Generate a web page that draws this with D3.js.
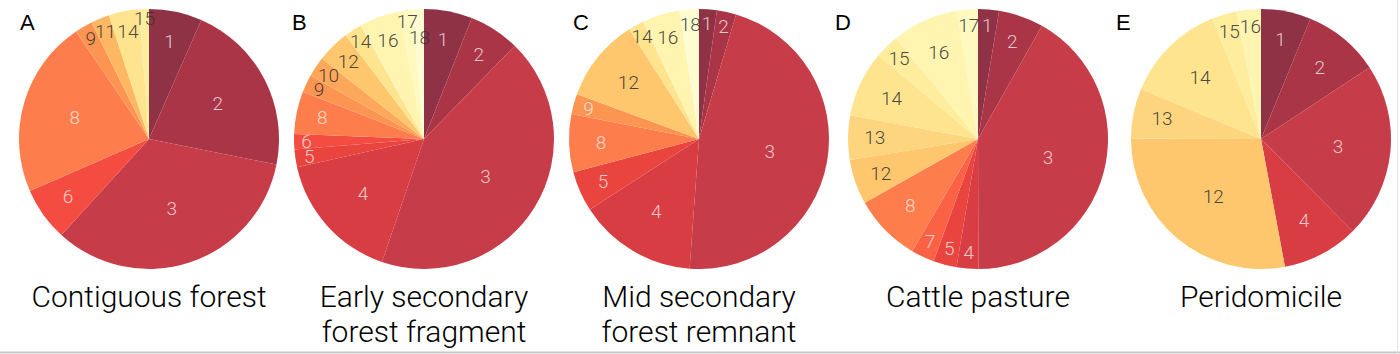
<!DOCTYPE html>
<html>
<head>
<meta charset="utf-8">
<script src="https://cdn.jsdelivr.net/npm/d3@7"></script>
<style>
  body { margin: 0; background: #fff; }
  svg { display: block; }
</style>
</head>
<body>
<svg id="chart"></svg>
<script>
/* ── Data (share of each category, %) ── */
const panelLetters = ['A', 'B', 'C', 'D', 'E'];
const panelTitles = [
  ['Contiguous forest'],
  ['Early secondary', 'forest fragment'],
  ['Mid secondary', 'forest remnant'],
  ['Cattle pasture'],
  ['Peridomicile']
];

const contiguousCats = [1, 2, 3, 6, 8, 9, 11, 14, 15];
const contiguousVals = [6.6, 21.6, 33.7, 6.7, 22.1, 2.2, 2.3, 3.8, 1.2];

const earlyCats = [1, 2, 3, 4, 5, 6, 8, 9, 10, 12, 14, 16, 17, 18];
const earlyVals = [6.0, 6.3, 43.0, 16.3, 2.2, 1.9, 5.3, 2.2, 2.5, 4.1, 2.2, 5.0, 1.7, 1.4];

const midCats = [1, 2, 3, 4, 5, 8, 9, 12, 14, 16, 18];
const midVals = [2.2, 2.4, 46.5, 14.7, 5.0, 7.2, 2.5, 10.4, 1.9, 4.7, 2.4];

const pastureCats = [1, 2, 3, 4, 5, 7, 8, 12, 13, 14, 15, 16, 17];
const pastureVals = [2.6, 5.6, 41.8, 2.7, 2.9, 2.9, 8.4, 5.6, 5.5, 8.2, 3.0, 8.3, 2.6];

const periCats = [1, 2, 3, 4, 12, 13, 14, 15, 16];
const periVals = [6.2, 9.5, 21.8, 9.5, 28.0, 6.2, 12.6, 3.1, 3.0];

const categories = d3.range(1, 19);
const categoryColors = [
  '#8f3246', '#a93546', '#c63c48', '#d83d44', '#e9443e', '#f44c41',
  '#fa6145', '#fd7d4d', '#fd9552', '#fda75a', '#feb762', '#fec76d',
  '#fed57f', '#fee48e', '#ffed9e', '#fff4b0', '#fff8bf', '#fffcd2'
];

const panels = [
  { cats: contiguousCats, vals: contiguousVals, darkFrom: 9 },
  { cats: earlyCats, vals: earlyVals, darkFrom: 9 },
  { cats: midCats, vals: midVals, darkFrom: 10 },
  { cats: pastureCats, vals: pastureVals, darkFrom: 9 },
  { cats: periCats, vals: periVals, darkFrom: 9 }
];

/* ── Layout ── */
const W = 1400, H = 354;
const R = 130;
const cy = 139;
const centers = [149, 424, 699, 978, 1261];
const letterDx = [-129, -132, -126, -143, -145];
const FONT = 'Roboto, "Helvetica Neue", Arial, sans-serif';
const LABEL_FS = 19;

const svg = d3.select('#chart').attr('width', W).attr('height', H);

const color = d3.scaleOrdinal().domain(categories).range(categoryColors);
const pie = d3.pie().sort(null).value((d) => d.v);
const arc = d3.arc().innerRadius(0).outerRadius(R);

const sliceDeg = (d) => (d.endAngle - d.startAngle) * 180 / Math.PI;

// small slices push their labels towards the rim
const labelRadius = (d) => R * (0.55 + 0.43 * Math.exp(-sliceDeg(d) / 35));

const placeAt = (d, r) => {
  const a = (d.startAngle + d.endAngle) / 2;
  return { x: Math.sin(a) * r, y: -Math.cos(a) * r, r };
};

const overlaps = (p, q, wp, wq) =>
  Math.abs(p.x - q.x) < (wp + wq) / 2 - 1 && Math.abs(p.y - q.y) < LABEL_FS * 0.72;

panels.forEach((p, i) => {
  const rows = p.cats.map((c, k) => ({ c, v: p.vals[k] }));
  const arcs = pie(rows);

  // label positions; a tiny slice whose label hits a rim-level neighbour steps inward
  const widths = arcs.map((d) => String(d.data.c).length * 0.56 * LABEL_FS);
  const pos = arcs.map((d) => placeAt(d, labelRadius(d)));
  for (let k = 1; k < arcs.length; k++) {
    if (sliceDeg(arcs[k]) < 6 &&
        pos[k].r - pos[k - 1].r < 8 &&
        overlaps(pos[k], pos[k - 1], widths[k], widths[k - 1])) {
      pos[k] = placeAt(arcs[k], pos[k].r - 18);
    }
  }
  const last = arcs.length - 1;
  if (overlaps(pos[0], pos[last], widths[0], widths[last])) {
    pos[0] = placeAt(arcs[0], pos[0].r - 10);
  }
  arcs.forEach((d, k) => { d.lx = pos[k].x; d.ly = pos[k].y; });

  const g = svg.append('g').attr('transform', `translate(${centers[i]},${cy})`);

  g.selectAll('path')
    .data(arcs)
    .join('path')
    .attr('d', arc)
    .attr('fill', (d) => color(d.data.c));

  g.selectAll('text.slice')
    .data(arcs)
    .join('text')
    .attr('class', 'slice')
    .attr('x', (d) => d.lx)
    .attr('y', (d) => d.ly)
    .attr('text-anchor', 'middle')
    .attr('dominant-baseline', 'central')
    .attr('font-family', FONT)
    .attr('font-weight', 300)
    .attr('font-size', LABEL_FS)
    .attr('fill', (d) => d.data.c >= p.darkFrom ? '#333' : '#fff')
    .attr('fill-opacity', (d) => d.data.c >= p.darkFrom ? 0.9 : 0.72)
    .text((d) => d.data.c);

  // panel letter
  g.append('text')
    .attr('x', letterDx[i])
    .attr('y', 30 - cy)
    .attr('font-family', '"Liberation Sans", Arial, sans-serif')
    .attr('font-size', 22)
    .attr('fill', '#000')
    .text(panelLetters[i]);

  // title under the pie
  g.append('text')
    .attr('text-anchor', 'middle')
    .attr('font-family', FONT)
    .attr('font-weight', 300)
    .attr('font-size', 30)
    .attr('fill', '#000')
    .selectAll('tspan')
    .data(panelTitles[i])
    .join('tspan')
    .attr('x', 0)
    .attr('y', (t, k) => 307 - cy + k * 35)
    .text((t) => t);
});

/* ── Frame edges ── */
svg.append('line')
  .attr('x1', 0).attr('x2', W).attr('y1', H - 1.5).attr('y2', H - 1.5)
  .attr('stroke', '#c8c8c8').attr('stroke-width', 2);
svg.append('line')
  .attr('x1', W - 2.5).attr('x2', W - 2.5).attr('y1', 0).attr('y2', H)
  .attr('stroke', '#e4e4e4').attr('stroke-width', 1);
</script>
</body>
</html>
